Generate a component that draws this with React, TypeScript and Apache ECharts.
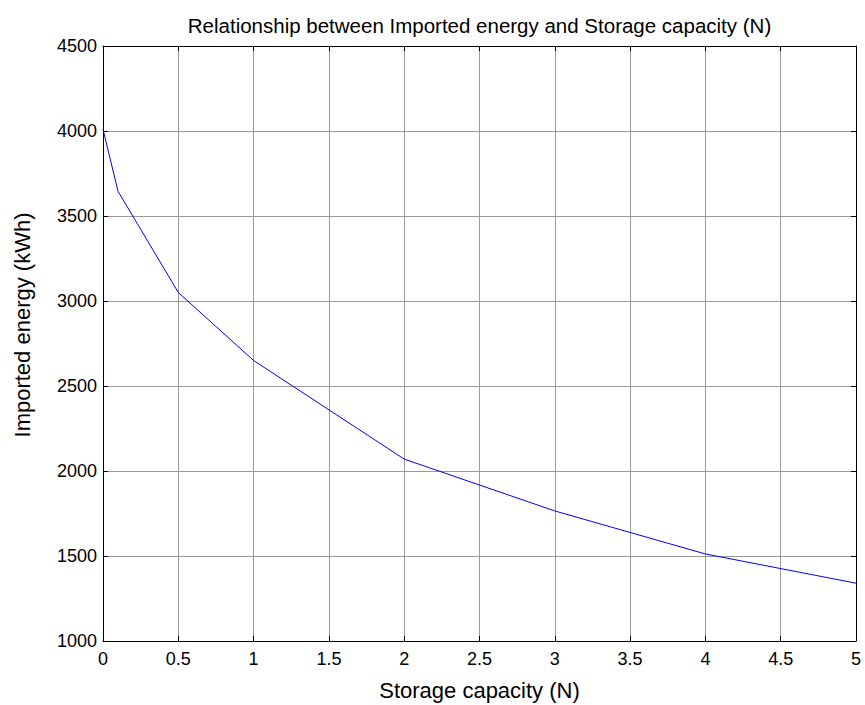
import React, { useEffect, useRef } from "react";
import * as echarts from "echarts";

const capacity = [0, 0.1, 0.5, 1, 2, 3, 4, 5];
const importedEnergy = [4010, 3645, 3050, 2650, 2070, 1765, 1512, 1340];
const titleText = "Relationship between Imported energy and Storage capacity (N)";
const xLabel = "Storage capacity (N)";
const yLabel = "Imported energy (kWh)";

const FONT = "'Liberation Sans', Arial, Helvetica, sans-serif";

export default function App() {
  const ref = useRef<HTMLDivElement>(null);
  useEffect(() => {
    if (!ref.current) return;
    const chart = echarts.init(ref.current, null, { renderer: "svg" });
    const gridL = 103, gridR = 9, gridT = 46, gridB = 64;
    const plotW = 865 - gridL - gridR;
    const baseAxis = {
      type: "value" as const,
      axisLine: { show: true, onZero: false, lineStyle: { color: "#000", width: 1 } },
      axisTick: { show: true, inside: true, length: 5, lineStyle: { color: "#000" } },
    };
    chart.setOption({
      animation: false,
      backgroundColor: "#fff",
      grid: { left: gridL, right: gridR, top: gridT, bottom: gridB, containLabel: false },
      graphic: [
        {
          type: "text",
          x: gridL + plotW / 2,
          y: 25,
          style: { text: titleText, fontSize: 20.5, fontFamily: FONT, fill: "#000", textAlign: "center", textVerticalAlign: "middle" },
        },
        {
          type: "text",
          x: gridL + plotW / 2,
          y: 690,
          style: { text: xLabel, fontSize: 22, fontFamily: FONT, fill: "#000", textAlign: "center", textVerticalAlign: "middle" },
        },
        {
          type: "text",
          x: 22,
          y: 325,
          rotation: Math.PI / 2,
          style: { text: yLabel, fontSize: 22, fontFamily: FONT, fill: "#000", textAlign: "center", textVerticalAlign: "middle" },
        },
      ],
      xAxis: [
        {
          ...baseAxis,
          position: "bottom",
          min: 0,
          max: 5,
          interval: 0.5,
          axisLabel: { color: "#000", fontSize: 18, fontFamily: FONT, margin: 9 },
          splitLine: { show: true, lineStyle: { color: "#9a9a9a", width: 1 } },
        },
        {
          ...baseAxis,
          position: "top",
          min: 0,
          max: 5,
          interval: 0.5,
          axisLabel: { show: false },
          splitLine: { show: false },
        },
      ],
      yAxis: [
        {
          ...baseAxis,
          position: "left",
          min: 1000,
          max: 4500,
          interval: 500,
          axisLabel: { color: "#000", fontSize: 18, fontFamily: FONT, margin: 6, formatter: (v: number) => String(v) },
          splitLine: { show: true, lineStyle: { color: "#9a9a9a", width: 1 } },
        },
        {
          ...baseAxis,
          position: "right",
          min: 1000,
          max: 4500,
          interval: 500,
          axisLabel: { show: false },
          splitLine: { show: false },
        },
      ],
      series: [
        {
          type: "line",
          data: capacity.map((c, i) => [c, importedEnergy[i]]),
          showSymbol: false,
          symbol: "none",
          lineStyle: { color: "#0000ff", width: 1 },
          itemStyle: { color: "#0000ff" },
        },
      ],
    });
    return () => chart.dispose();
  }, []);
  return <div ref={ref} style={{ width: 865, height: 705, position: "absolute", left: 0, top: 0 }} />;
}
